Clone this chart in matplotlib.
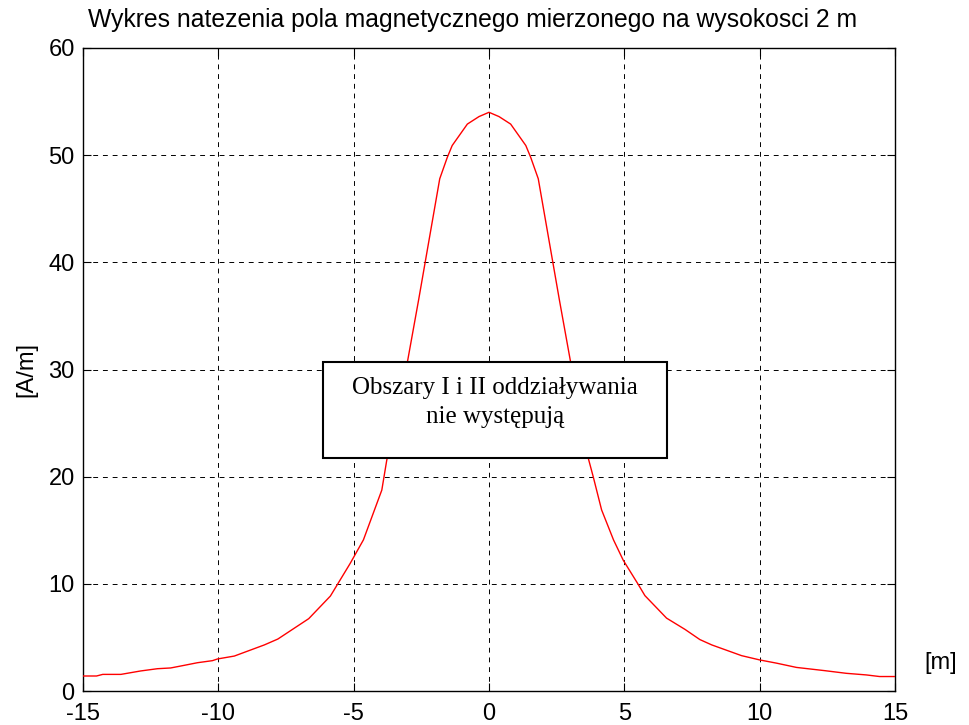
import matplotlib
matplotlib.use("Agg")
import matplotlib.pyplot as plt
from matplotlib.patches import Rectangle

# Measured field strength profile (distance [m] vs H [A/m])
x_m = [-15.0, -14.5, -14.27, -13.6, -12.87, -12.25, -11.76, -11.27, -10.77, -10.22,
       -10.03, -9.41, -8.3, -7.8, -6.66, -5.86, -5.13, -4.64, -3.96, -3.78,
       -3.0, -2.6, -1.82, -1.54, -1.36, -0.8, -0.37, 0.0,
       0.37, 0.8, 1.36, 1.54, 1.82, 2.6, 3.0, 3.67, 3.85, 4.16,
       4.6, 4.96, 5.5, 5.76, 6.56, 7.24, 7.79, 8.23, 9.33, 10.0,
       10.62, 11.36, 12.4, 13.2, 13.94, 14.43, 15.0]
h_am = [1.4, 1.4, 1.55, 1.55, 1.87, 2.08, 2.15, 2.39, 2.64, 2.83,
        2.99, 3.26, 4.3, 4.85, 6.75, 8.86, 11.9, 14.1, 18.75, 21.5,
        30.9, 36.5, 47.8, 49.8, 50.9, 52.9, 53.6, 54.0,
        53.6, 52.9, 50.9, 49.8, 47.8, 36.5, 30.9, 21.7, 20.0, 16.9,
        14.1, 12.2, 10.0, 8.9, 6.8, 5.75, 4.8, 4.3, 3.3, 2.9,
        2.6, 2.2, 1.9, 1.65, 1.5, 1.35, 1.35]

x_ticks = [-15, -10, -5, 0, 5, 10, 15]
y_ticks = [0, 10, 20, 30, 40, 50, 60]

title = "Wykres natezenia pola magnetycznego mierzonego na wysokosci 2 m"
note_lines = "Obszary I i II oddziaływania\nnie występują"

plt.rcParams['font.family'] = ['Liberation Sans', 'DejaVu Sans']

fig = plt.figure(figsize=(9.7, 7.25), dpi=100)
ax = fig.add_axes([83/970, 1-691/725, 812/970, 643/725])

ax.plot(x_m, h_am, color='red', lw=1.0, zorder=3)

ax.set_xlim(-15, 15)
ax.set_ylim(0, 60)
ax.set_xticks(x_ticks)
ax.set_yticks(y_ticks)
ax.set_xticklabels([str(v) for v in x_ticks])
ax.set_yticklabels([str(v) for v in y_ticks])
ax.tick_params(direction='in', top=True, right=True, length=6, width=0.8,
               labelsize=17)
ax.tick_params(axis='x', pad=9)
ax.tick_params(axis='y', pad=6)
ax.grid(True, color='black', linestyle=(0, (5, 5)), linewidth=0.7, zorder=1)
for s in ax.spines.values():
    s.set_linewidth(1.0)

ax.set_ylabel("[A/m]", fontsize=17, labelpad=8)
fig.text(941/970, 1-663/725, "[m]", fontsize=17, ha='center', va='center')
fig.text(88/970, 1-20/725, title, fontsize=17.8, ha='left', va='center')

rect = Rectangle((0.2956, 0.362), 0.4234, 0.150, transform=ax.transAxes,
                 facecolor='white', edgecolor='black', linewidth=1.5, zorder=5)
ax.add_patch(rect)
ax.text(0.507, 0.4487, note_lines, transform=ax.transAxes, ha='center', va='center',
        fontsize=18, family=['Liberation Serif', 'DejaVu Serif'],
        linespacing=1.45, zorder=6)

fig.savefig("out.png", dpi=100)
